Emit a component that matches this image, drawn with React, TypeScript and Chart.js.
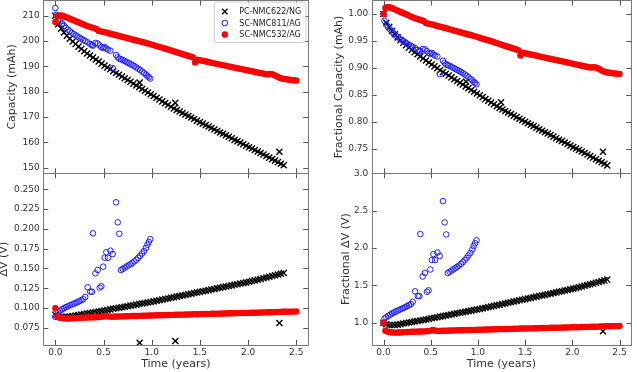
import React, { useEffect, useRef } from "react";
import { Chart, registerables } from "chart.js";

Chart.register(...registerables);

const W = 637;
const H = 372;
const FONT = "DejaVu Sans";

// ---------------- data ----------------
const seriesLabels = ["PC-NMC622/NG", "SC-NMC811/AG", "SC-NMC532/AG"];

const pcTime = [
  0, 0.03, 0.06, 0.09, 0.12, 0.15, 0.18, 0.21, 0.24, 0.27,
  0.30, 0.33, 0.36, 0.39, 0.42, 0.45, 0.48, 0.51, 0.54, 0.57,
  0.60, 0.63, 0.66, 0.69, 0.72, 0.75, 0.78, 0.81, 0.84, 0.87,
  0.875, 0.90, 0.93, 0.96, 0.99, 1.02, 1.05, 1.08, 1.11, 1.14,
  1.17, 1.20, 1.23, 1.245, 1.26, 1.29, 1.32, 1.35, 1.38, 1.41,
  1.44, 1.47, 1.50, 1.53, 1.56, 1.59, 1.62, 1.65, 1.68, 1.71,
  1.74, 1.77, 1.80, 1.83, 1.86, 1.89, 1.92, 1.95, 1.98, 2.01,
  2.04, 2.07, 2.10, 2.13, 2.16, 2.19, 2.22, 2.25, 2.28, 2.31,
  2.325, 2.34, 2.37,
];
const pcCapacity = [
  210.0, 206.6, 204.9, 203.4, 202.1, 200.9, 199.8, 198.8, 197.8, 196.9,
  196.0, 195.1, 194.3, 193.5, 192.7, 191.9, 191.1, 190.3, 189.6, 188.9,
  188.1, 187.4, 186.7, 186.0, 185.3, 184.6, 183.9, 183.2, 182.5, 181.8,
  183.6, 181.1, 180.4, 179.7, 179.0, 178.3, 177.6, 176.9, 176.2, 175.5,
  174.8, 174.1, 173.4, 175.6, 172.8, 172.2, 171.6, 171.0, 170.4, 169.8,
  169.2, 168.6, 168.0, 167.4, 166.8, 166.3, 165.7, 165.1, 164.5, 163.9,
  163.4, 162.8, 162.2, 161.6, 161.0, 160.5, 159.9, 159.3, 158.7, 158.1,
  157.6, 157.0, 156.4, 155.8, 155.2, 154.6, 154.0, 153.4, 152.8, 152.2,
  156.3, 151.6, 151.0,
];
const pcDeltaV = [
  0.0915, 0.0897, 0.0889, 0.0887, 0.0889, 0.0893, 0.0899, 0.0906, 0.0913, 0.0919,
  0.0925, 0.0931, 0.0937, 0.0943, 0.0949, 0.0956, 0.0963, 0.0970, 0.0977, 0.0984,
  0.0991, 0.0997, 0.1004, 0.1011, 0.1017, 0.1024, 0.1031, 0.1037, 0.1044, 0.1051,
  0.0563, 0.1058, 0.1064, 0.1071, 0.1078, 0.1085, 0.1092, 0.1100, 0.1107, 0.1115,
  0.1122, 0.1130, 0.1137, 0.0585, 0.1145, 0.1152, 0.1160, 0.1167, 0.1175, 0.1182,
  0.1190, 0.1197, 0.1205, 0.1212, 0.1220, 0.1227, 0.1235, 0.1242, 0.1250, 0.1257,
  0.1265, 0.1272, 0.1280, 0.1287, 0.1295, 0.1302, 0.1310, 0.1317, 0.1325, 0.1333,
  0.1341, 0.1350, 0.1359, 0.1368, 0.1377, 0.1386, 0.1395, 0.1405, 0.1414, 0.1424,
  0.0812, 0.1434, 0.1444,
];

const sc811Time = [
  0, 0.01, 0.03, 0.05, 0.07, 0.09, 0.11, 0.13, 0.15, 0.17,
  0.19, 0.21, 0.23, 0.25, 0.27, 0.29, 0.31, 0.335, 0.363, 0.38,
  0.39, 0.415, 0.439, 0.46, 0.477, 0.496, 0.512, 0.529, 0.546, 0.571,
  0.595, 0.63, 0.647, 0.664, 0.681, 0.70, 0.72, 0.74, 0.76, 0.78,
  0.80, 0.82, 0.84, 0.86, 0.88, 0.90, 0.92, 0.94, 0.955, 0.97,
  0.985,
];
const sc811Capacity = [
  213.0, 210.3, 208.8, 207.8, 206.9, 206.0, 205.2, 204.5, 203.9, 203.3,
  202.8, 202.3, 201.8, 201.3, 200.9, 200.4, 200.0, 199.5, 198.8, 198.4,
  198.2, 199.2, 199.0, 198.3, 197.6, 197.3, 197.6, 197.0, 196.6, 196.2,
  189.3, 194.5, 193.6, 193.0, 192.8, 192.5, 192.1, 191.7, 191.3, 190.9,
  190.5, 190.1, 189.6, 189.1, 188.6, 188.0, 187.4, 186.8, 186.2, 185.7,
  185.2,
];
const sc811DeltaV = [
  0.0889, 0.0940, 0.0955, 0.0970, 0.0985, 0.1000, 0.1012, 0.1023, 0.1035, 0.1045,
  0.1055, 0.1065, 0.1075, 0.1088, 0.1100, 0.1112, 0.1140, 0.1263, 0.1207, 0.1207,
  0.1944, 0.1439, 0.1481, 0.1258, 0.1275, 0.1523, 0.1636, 0.1705, 0.1636, 0.1725,
  0.1683, 0.2336, 0.2083, 0.1939, 0.1481, 0.1495, 0.1510, 0.1525, 0.1540, 0.1555,
  0.1570, 0.1590, 0.1610, 0.1635, 0.1660, 0.1690, 0.1720, 0.1760, 0.1800, 0.1835,
  0.1870,
];

const sc532Time = [
  0, 0.02, 0.04, 0.06, 0.08, 0.10,
  0.125, 0.15, 0.175, 0.2, 0.225, 0.25, 0.275, 0.3, 0.325, 0.35,
  0.375, 0.4, 0.425, 0.45, 0.475, 0.5, 0.525, 0.55, 0.575, 0.6,
  0.625, 0.65, 0.675, 0.7, 0.725, 0.75, 0.775, 0.8, 0.825, 0.85,
  0.875, 0.9, 0.925, 0.95, 0.975, 1.0, 1.025, 1.05, 1.075, 1.1,
  1.125, 1.15, 1.175, 1.2, 1.225, 1.25, 1.275, 1.3, 1.325, 1.35,
  1.375, 1.4, 1.425, 1.45, 1.475, 1.5, 1.525, 1.55, 1.575, 1.6,
  1.625, 1.65, 1.675, 1.7, 1.725, 1.75, 1.775, 1.8, 1.825, 1.85,
  1.875, 1.9, 1.925, 1.95, 1.975, 2.0, 2.025, 2.05, 2.075, 2.1,
  2.125, 2.15, 2.175, 2.2, 2.225, 2.25, 2.275, 2.3, 2.325, 2.35,
  2.375, 2.4, 2.425, 2.45, 2.475, 2.5,
];
const sc532Capacity = [
  207.5, 209.8, 210.1, 210.1, 209.9, 209.6,
  209.2, 208.8, 208.4, 208.0, 207.6, 207.2, 206.8, 206.4, 206.0, 205.7,
  205.4, 205.1, 204.8, 204.0, 203.8, 203.6, 203.4, 203.1, 202.9, 202.6,
  202.4, 202.1, 201.9, 201.6, 201.4, 201.1, 200.9, 200.6, 200.4, 200.1,
  199.9, 199.6, 199.4, 199.1, 198.9, 198.6, 198.3, 198.0, 197.7, 197.5,
  197.2, 196.9, 196.6, 196.3, 196.0, 195.7, 195.4, 195.1, 194.8, 194.5,
  194.2, 193.9, 193.6, 191.5, 192.6, 192.4, 192.2, 192.0, 191.8, 191.6,
  191.4, 191.2, 191.0, 190.8, 190.6, 190.4, 190.2, 190.0, 189.8, 189.6,
  189.4, 189.2, 189.0, 188.8, 188.6, 188.4, 188.2, 188.0, 187.8, 187.6,
  187.4, 187.2, 187.0, 186.9, 187.0, 186.9, 186.5, 186.0, 185.5, 185.2,
  185.0, 184.9, 184.7, 184.6, 184.5, 184.4,
];
const sc532DeltaV = [
  0.1000, 0.0895, 0.0882, 0.0876, 0.0872, 0.0870,
  0.0869, 0.0870, 0.0871, 0.0873, 0.0875, 0.0877, 0.0879, 0.0880, 0.0881, 0.0882,
  0.0883, 0.0884, 0.0885, 0.0888, 0.0890, 0.0895, 0.0905, 0.0895, 0.0892, 0.0892,
  0.0893, 0.0894, 0.0895, 0.0896, 0.0897, 0.0898, 0.0899, 0.0900, 0.0900, 0.0901,
  0.0902, 0.0903, 0.0904, 0.0905, 0.0906, 0.0907, 0.0908, 0.0909, 0.0910, 0.0911,
  0.0911, 0.0912, 0.0913, 0.0914, 0.0915, 0.0916, 0.0917, 0.0917, 0.0918, 0.0919,
  0.0920, 0.0921, 0.0922, 0.0924, 0.0923, 0.0924, 0.0925, 0.0926, 0.0926, 0.0927,
  0.0928, 0.0929, 0.0930, 0.0930, 0.0931, 0.0932, 0.0933, 0.0934, 0.0934, 0.0935,
  0.0936, 0.0937, 0.0938, 0.0938, 0.0939, 0.0940, 0.0941, 0.0942, 0.0942, 0.0943,
  0.0944, 0.0945, 0.0946, 0.0947, 0.0948, 0.0948, 0.0949, 0.0950, 0.0952, 0.0953,
  0.0954, 0.0955, 0.0955, 0.0956, 0.0956, 0.0957,
];

const xTicks = [0, 0.5, 1.0, 1.5, 2.0, 2.5];
const capacityTicks = [150, 160, 170, 180, 190, 200, 210];
const fracCapacityTicks = [0.75, 0.8, 0.85, 0.9, 0.95, 1.0];
const deltaVTicks = [0.075, 0.1, 0.125, 0.15, 0.175, 0.2, 0.225, 0.25];
const fracDeltaVTicks = [1.0, 1.5, 2.0, 2.5, 3.0];

// ---------------- helpers ----------------
const normalize = (arr: number[]) => arr.map((v) => v / arr[0]);
const pts = (xs: number[], ys: number[]) => xs.map((x, i) => ({ x, y: ys[i] }));

const FRAME = "#7a7a7a";
const TICK = "#555555";
const TEXT = "#333333";

const framePlugin = {
  id: "frameTicks",
  afterDraw(chart: any) {
    const { ctx, chartArea: a, scales } = chart;
    const xs = scales.x;
    const ys = scales.y;
    ctx.save();
    ctx.strokeStyle = TICK;
    ctx.lineWidth = 1;
    ctx.beginPath();
    xs.ticks.forEach((t: any) => {
      const px = Math.round(xs.getPixelForValue(t.value)) + 0.5;
      ctx.moveTo(px, a.bottom);
      ctx.lineTo(px, a.bottom - 5);
      ctx.moveTo(px, a.top);
      ctx.lineTo(px, a.top + 5);
    });
    ys.ticks.forEach((t: any) => {
      const py = Math.round(ys.getPixelForValue(t.value)) + 0.5;
      ctx.moveTo(a.left, py);
      ctx.lineTo(a.left + 5, py);
      ctx.moveTo(a.right, py);
      ctx.lineTo(a.right - 5, py);
    });
    ctx.stroke();
    ctx.strokeStyle = FRAME;
    ctx.strokeRect(
      Math.round(a.left) + 0.5,
      Math.floor(a.top) + 0.5,
      Math.round(a.right) - Math.round(a.left),
      Math.round(a.bottom) - Math.floor(a.top)
    );
    ctx.restore();
  },
};

const legendPlugin = {
  id: "boxLegend",
  afterDraw(chart: any) {
    const { ctx, chartArea: a } = chart;
    const bw = 91.5;
    const bh = 40.5;
    const bx = a.right - 2.5 - bw;
    const by = a.top + 1.5;
    ctx.save();
    ctx.beginPath();
    const r = 2.5;
    ctx.moveTo(bx + r, by);
    ctx.lineTo(bx + bw - r, by);
    ctx.quadraticCurveTo(bx + bw, by, bx + bw, by + r);
    ctx.lineTo(bx + bw, by + bh - r);
    ctx.quadraticCurveTo(bx + bw, by + bh, bx + bw - r, by + bh);
    ctx.lineTo(bx + r, by + bh);
    ctx.quadraticCurveTo(bx, by + bh, bx, by + bh - r);
    ctx.lineTo(bx, by + r);
    ctx.quadraticCurveTo(bx, by, bx + r, by);
    ctx.closePath();
    ctx.fillStyle = "rgba(255,255,255,0.8)";
    ctx.fill();
    ctx.strokeStyle = "#cccccc";
    ctx.lineWidth = 1;
    ctx.stroke();

    chart.data.datasets.forEach((ds: any, i: number) => {
      const cy = by + 9.5 + i * 11.5;
      const cx = bx + 10.5;
      ctx.beginPath();
      if (ds.pointStyle === "crossRot") {
        const d = 2.7;
        ctx.moveTo(cx - d, cy - d);
        ctx.lineTo(cx + d, cy + d);
        ctx.moveTo(cx + d, cy - d);
        ctx.lineTo(cx - d, cy + d);
        ctx.strokeStyle = ds.borderColor;
        ctx.lineWidth = 1.3;
        ctx.stroke();
      } else if (ds.backgroundColor === "rgba(0,0,0,0)") {
        ctx.arc(cx, cy, 2.8, 0, Math.PI * 2);
        ctx.strokeStyle = ds.borderColor;
        ctx.lineWidth = ds.borderWidth;
        ctx.stroke();
      } else {
        ctx.arc(cx, cy, 3.2, 0, Math.PI * 2);
        ctx.fillStyle = ds.backgroundColor;
        ctx.fill();
      }
      ctx.fillStyle = "#222222";
      ctx.font = `8px "${FONT}"`;
      ctx.textBaseline = "middle";
      ctx.textAlign = "left";
      ctx.fillText(ds.label, bx + 25, cy + 0.5);
    });
    ctx.restore();
  },
};

type PanelSpec = {
  pc: number[];
  sc811: number[];
  sc532: number[];
  yMin: number;
  yMax: number;
  yTicks: number[];
  yDecimals: number;
  yTitle: string;
  yTitleOffset: number;
  padLeft: number;
  yWidth: number;
  padRight: number;
  padTop: number;
  padBottom: number;
  showX: boolean;
  legend: boolean;
};

const panels: PanelSpec[] = [
  {
    pc: pcCapacity, sc811: sc811Capacity, sc532: sc532Capacity,
    yMin: 147.8, yMax: 216.0, yTicks: capacityTicks, yDecimals: 0,
    yTitle: "Capacity (mAh)", yTitleOffset: 5.2,
    padLeft: 0, yWidth: 43.3, padRight: 328.7, padTop: 0.5, padBottom: 198.7,
    showX: false, legend: true,
  },
  {
    pc: normalize(pcCapacity), sc811: normalize(sc811Capacity), sc532: normalize(sc532Capacity),
    yMin: 0.7043, yMax: 1.0251, yTicks: fracCapacityTicks, yDecimals: 2,
    yTitle: "Fractional Capacity (mAh)", yTitleOffset: 2.1,
    padLeft: 330, yWidth: 41.7, padRight: 5.7, padTop: 0.5, padBottom: 198.7,
    showX: false, legend: false,
  },
  {
    pc: pcDeltaV, sc811: sc811DeltaV, sc532: sc532DeltaV,
    yMin: 0.0534, yMax: 0.2702, yTicks: deltaVTicks, yDecimals: 3,
    yTitle: "\u0394V (V)", yTitleOffset: -2.0,
    padLeft: 0, yWidth: 43.3, padRight: 328.7, padTop: 173.3, padBottom: 1,
    showX: true, legend: false,
  },
  {
    pc: normalize(pcDeltaV), sc811: normalize(sc811DeltaV), sc532: normalize(sc532DeltaV),
    yMin: 0.703, yMax: 3.0, yTicks: fracDeltaVTicks, yDecimals: 1,
    yTitle: "Fractional \u0394V (V)", yTitleOffset: 9.7,
    padLeft: 330, yWidth: 41.7, padRight: 5.7, padTop: 173.3, padBottom: 1,
    showX: true, legend: false,
  },
];

function buildConfig(p: PanelSpec): any {
  const tickFont = { family: FONT, size: 9 };
  const titleFont = { family: FONT, size: 11, lineHeight: 1.2 };
  return {
    type: "scatter",
    data: {
      datasets: [
        {
          label: seriesLabels[0],
          data: pts(pcTime, p.pc),
          pointStyle: "crossRot",
          pointRadius: 4.3,
          borderColor: "#000000",
          backgroundColor: "#000000",
          borderWidth: 1.4,
          order: 3,
        },
        {
          label: seriesLabels[1],
          data: pts(sc811Time, p.sc811),
          pointStyle: "circle",
          pointRadius: 2.8,
          borderColor: "#1f1fff",
          backgroundColor: "rgba(0,0,0,0)",
          borderWidth: 1,
          order: 2,
        },
        {
          label: seriesLabels[2],
          data: pts(sc532Time, p.sc532),
          pointStyle: "circle",
          pointRadius: 3.2,
          borderColor: "#ff0000",
          backgroundColor: "#ff0000",
          borderWidth: 0,
          order: 1,
        },
      ],
    },
    options: {
      responsive: false,
      maintainAspectRatio: false,
      animation: false,
      devicePixelRatio: 1,
      events: [],
      layout: {
        autoPadding: false,
        padding: { left: p.padLeft, right: p.padRight, top: p.padTop, bottom: p.padBottom },
      },
      plugins: {
        legend: { display: false },
        tooltip: { enabled: false },
        title: { display: false },
      },
      scales: {
        x: {
          type: "linear",
          position: "bottom",
          min: -0.125,
          max: 2.625,
          bounds: "data",
          afterBuildTicks: (s: any) => {
            s.ticks = xTicks.map((v) => ({ value: v }));
          },
          afterFit: (s: any) => {
            s.height = p.showX ? 26 : 0;
            s.paddingLeft = 0;
            s.paddingRight = 0;
            s.paddingTop = 0;
            s.paddingBottom = 0;
          },
          grid: { display: false, drawTicks: false },
          border: { display: false },
          ticks: {
            display: p.showX,
            autoSkip: false,
            maxRotation: 0,
            padding: 2.5,
            color: TEXT,
            font: tickFont,
            callback: (v: any) => Number(v).toFixed(1),
          },
          title: {
            display: p.showX,
            text: "Time (years)",
            color: TEXT,
            font: titleFont,
            padding: { top: 0, bottom: 0 },
          },
        },
        y: {
          type: "linear",
          position: "left",
          min: p.yMin,
          max: p.yMax,
          bounds: "data",
          afterBuildTicks: (s: any) => {
            s.ticks = p.yTicks.map((v) => ({ value: v }));
          },
          afterFit: (s: any) => {
            s.width = p.yWidth;
            s.paddingTop = 0;
            s.paddingBottom = 0;
            s.paddingLeft = 0;
            s.paddingRight = 0;
          },
          grid: { display: false, drawTicks: false },
          border: { display: false },
          ticks: {
            autoSkip: false,
            padding: 3.5,
            color: TEXT,
            font: tickFont,
            callback: (v: any) => Number(v).toFixed(p.yDecimals),
          },
          title: {
            display: true,
            text: p.yTitle,
            color: TEXT,
            font: titleFont,
            padding: { top: p.yTitleOffset, bottom: 0 },
          },
        },
      },
    },
    plugins: p.legend ? [framePlugin, legendPlugin] : [framePlugin],
  };
}

export default function App() {
  const r0 = useRef<HTMLCanvasElement>(null);
  const r1 = useRef<HTMLCanvasElement>(null);
  const r2 = useRef<HTMLCanvasElement>(null);
  const r3 = useRef<HTMLCanvasElement>(null);
  const refs = [r0, r1, r2, r3];

  useEffect(() => {
    const charts = panels.map((p, i) => new Chart(refs[i].current as HTMLCanvasElement, buildConfig(p)));
    return () => charts.forEach((c) => c.destroy());
  }, []);

  return (
    <div style={{ position: "absolute", left: 0, top: 0, width: W, height: H, background: "#ffffff" }}>
      {refs.map((r, i) => (
        <canvas
          key={i}
          ref={r}
          width={W}
          height={H}
          style={{ position: "absolute", left: 0, top: 0, width: W, height: H }}
        />
      ))}
    </div>
  );
}
